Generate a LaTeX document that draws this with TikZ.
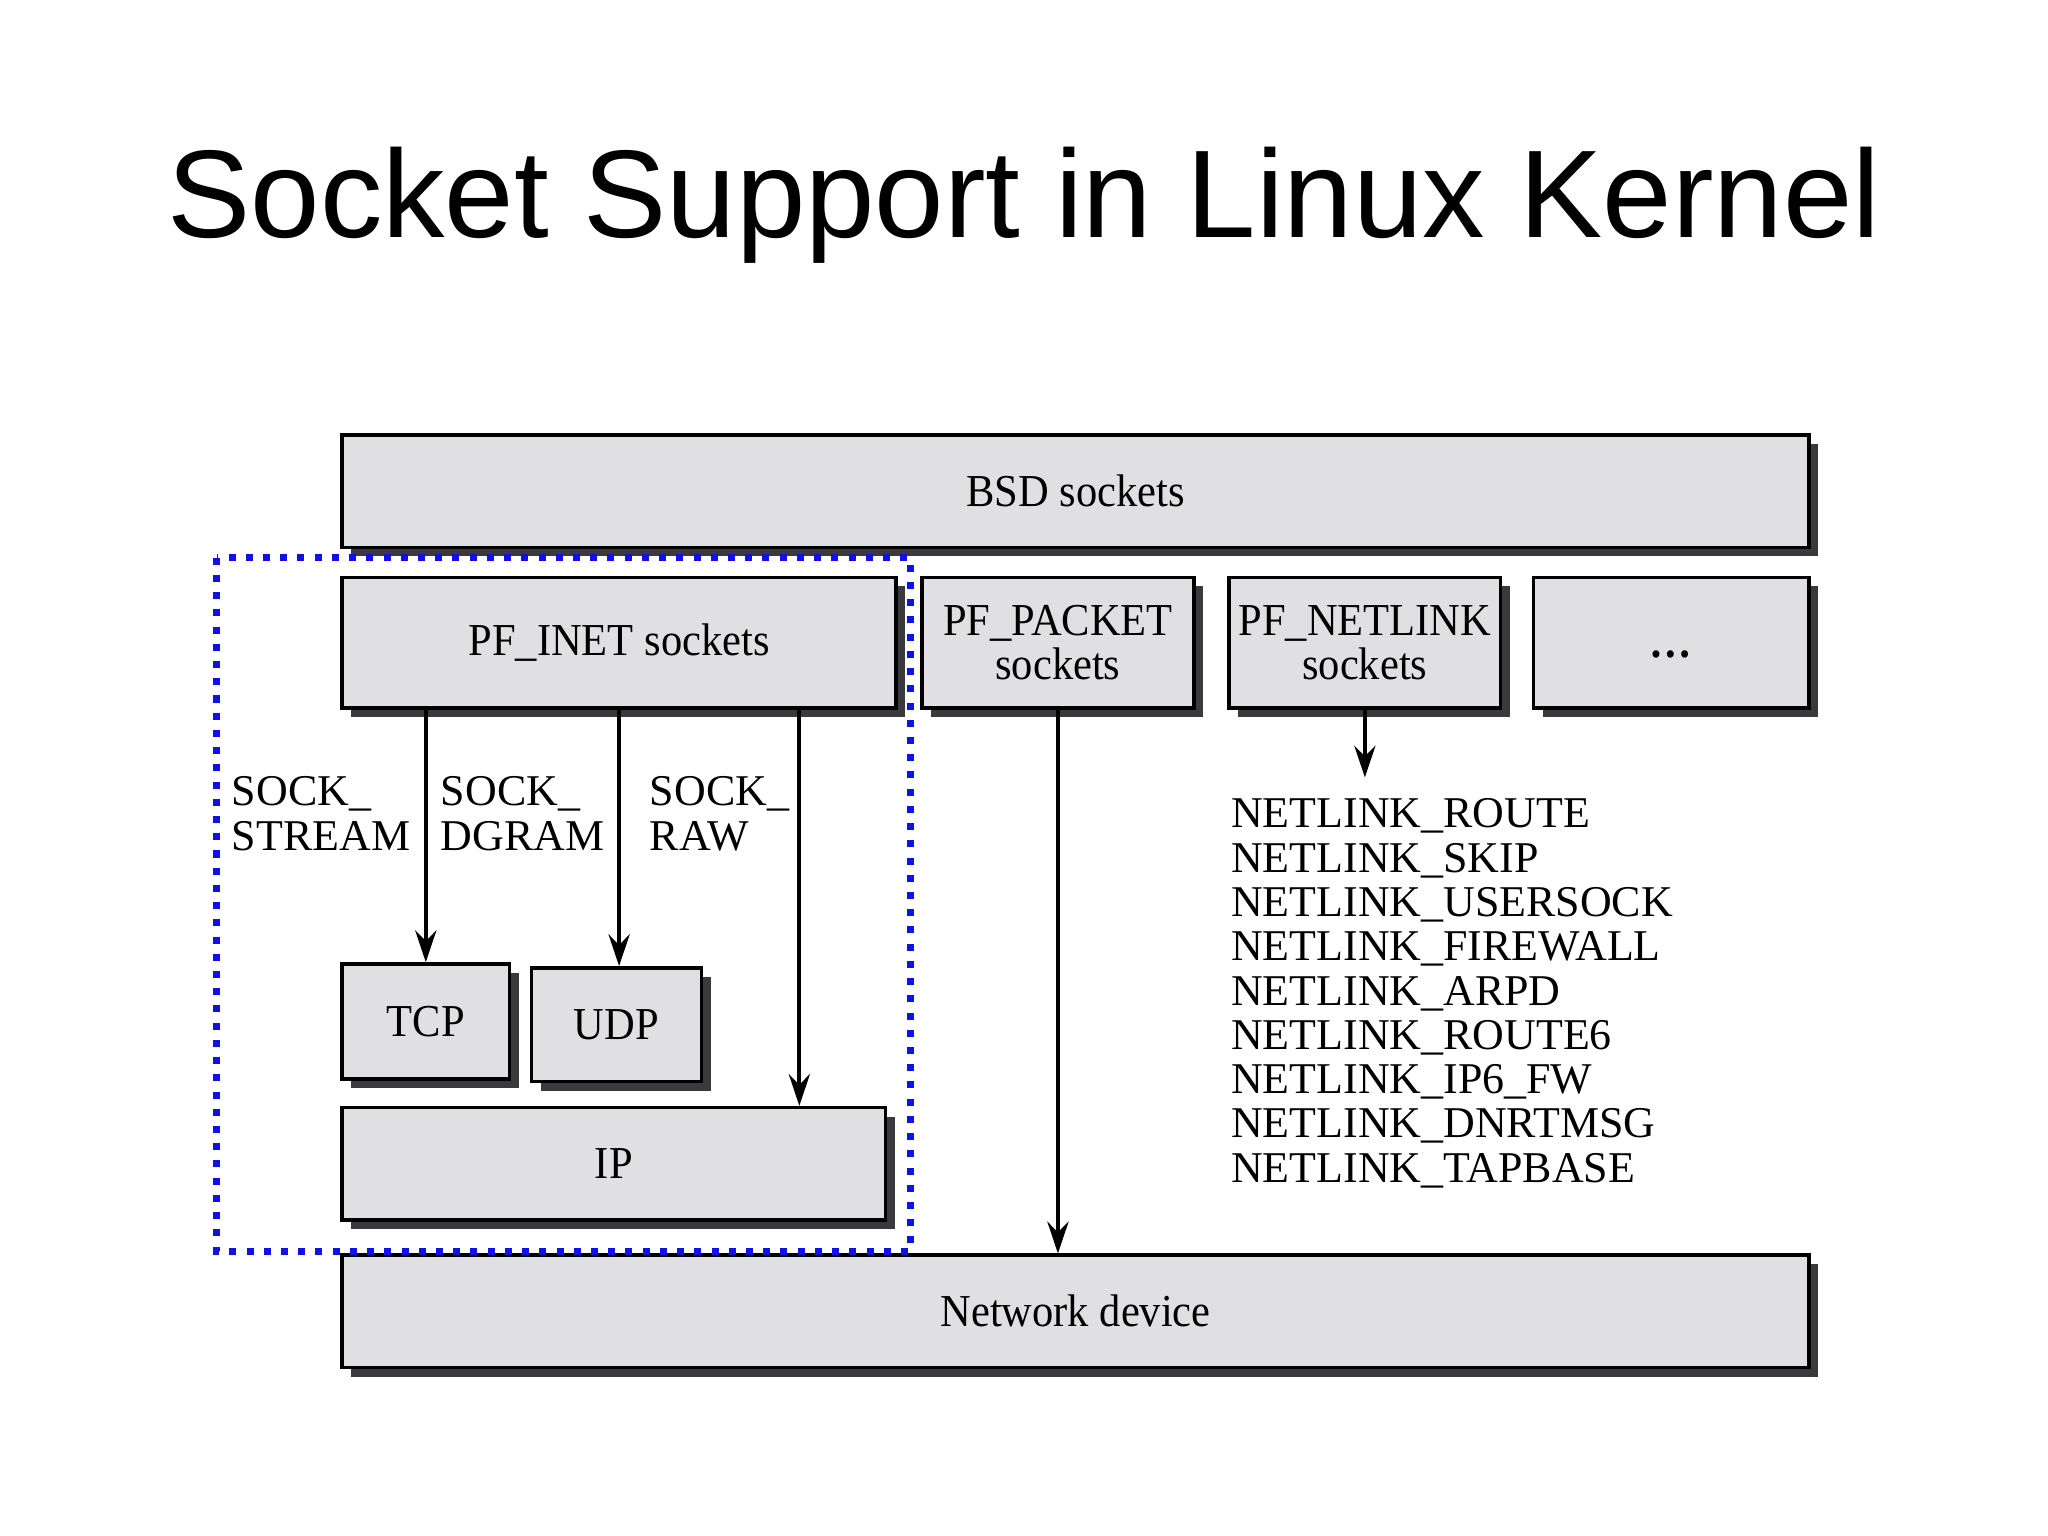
\documentclass[tikz,border=0pt]{standalone}
\usepackage{fontspec}
\setmainfont{Liberation Serif}
\newfontfamily\titlefont{Liberation Sans}
\newfontfamily\boxfont[FakeStretch=0.93]{Liberation Serif}
\usetikzlibrary{arrows.meta,shadows}
\definecolor{boxgray}{RGB}{224,224,226}
\definecolor{shadowgray}{RGB}{58,58,60}
\definecolor{dotblue}{RGB}{16,16,235}
\newcommand{\px}{0.01306cm}
\tikzset{
  layer/.style={draw,line width=1pt,fill=boxgray,inner sep=0pt,align=center,
    font=\boxfont\fontsize{13}{12.6}\selectfont,
    drop shadow={shadow xshift=2.6pt,shadow yshift=-2.6pt,fill=shadowgray,opacity=1}},
  tag/.style={inner sep=0pt,align=left,anchor=north west,
    font=\fontsize{12.5}{12.6}\selectfont},
}
\begin{document}
\begin{tikzpicture}[x=\px,y=-\px,>={Stealth[length=9pt,width=6pt,inset=3pt]},line width=1.2pt]
		\useasboundingbox (0,0) rectangle (1568,1176);
		\node[font=\titlefont\fontsize{35.5}{40}\selectfont,anchor=base] (title) at (784,182) {Socket Support in Linux Kernel};
		% layers
		\node[layer,minimum width=1123*\px,minimum height=86*\px] (bsd) at (823.5,376) {BSD sockets};
		\node[layer,minimum width=424*\px,minimum height=100*\px] (inet) at (474,492) {PF\_INET sockets};
		\node[layer,minimum width=208*\px,minimum height=100*\px] (packet) at (810,492) {PF\_PACKET\\sockets};
		\node[layer,minimum width=208*\px,minimum height=100*\px] (netlink) at (1045,492) {PF\_NETLINK\\sockets};
		\node[layer,minimum width=211*\px,minimum height=100*\px] (more) at (1279.5,492) {\vphantom{A}\textbf{\dots}};
		\node[layer,minimum width=128*\px,minimum height=88*\px] (tcp) at (326,782) {TCP};
		\node[layer,minimum width=130*\px,minimum height=87*\px] (udp) at (472,784.5) {UDP};
		\node[layer,minimum width=416*\px,minimum height=86*\px] (ip) at (470,891) {IP};
		\node[layer,minimum width=1123*\px,minimum height=86*\px] (netdev) at (823.5,1004) {Network device};
		% labels
		\node[tag] (stream) at (176,593) {SOCK\_\\STREAM};
		\node[tag] (dgram) at (336,593) {SOCK\_\\DGRAM};
		\node[tag] (raw) at (496,593) {SOCK\_\\RAW};
		\node[tag] (nlist) at (941,610) {NETLINK\_ROUTE\\NETLINK\_SKIP\\NETLINK\_USERSOCK\\NETLINK\_FIREWALL\\NETLINK\_ARPD\\NETLINK\_ROUTE6\\NETLINK\_IP6\_FW\\NETLINK\_DNRTMSG\\NETLINK\_TAPBASE};
		% arrows
		\coordinate (rawx) at (612,0);
		\draw[->] (inet.south -| tcp.north) -- (tcp.north);
		\draw[->] (inet.south) -- (inet.south |- udp.north);
		\draw[->] (inet.south -| rawx) -- (ip.north -| rawx);
		\draw[->] (packet.south) -- (netdev.north -| packet.south);
		\draw[->,shorten >=5.5pt] (netlink.south) -- (nlist.north -| netlink.south);
		% PF_INET group
		\draw[dotblue,line width=2pt,dash pattern=on 2pt off 2.9pt] (166,427) rectangle (697,958);
\end{tikzpicture}
\end{document}
